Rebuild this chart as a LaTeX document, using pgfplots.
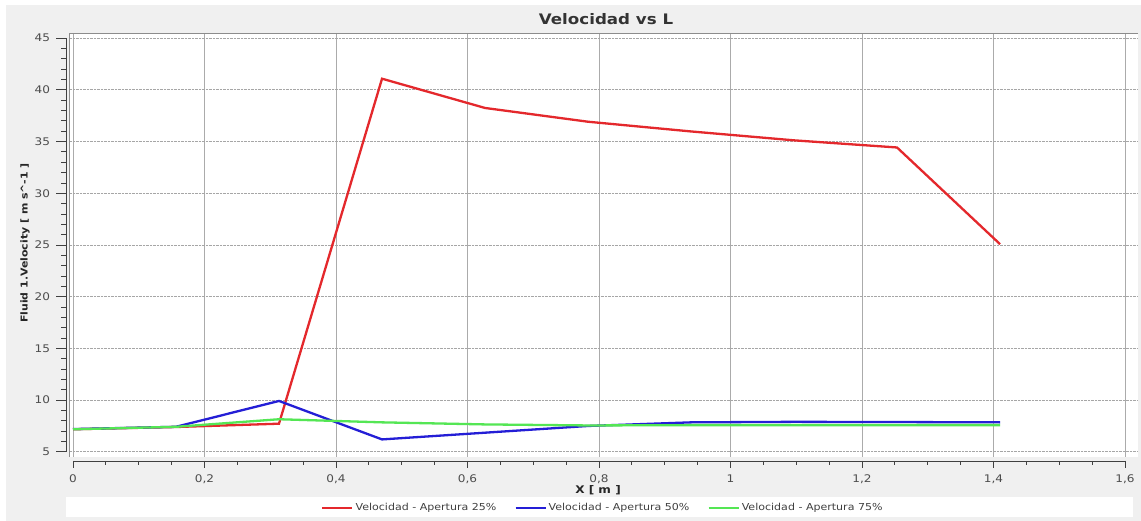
\documentclass[border=0pt]{standalone}
\usepackage{pgfplots}
\pgfplotsset{compat=1.18}
\usepackage{fontspec}
\setmainfont[FakeStretch=1.15]{DejaVu Sans}
\definecolor{bg}{HTML}{F0F0F0}
\definecolor{cred}{RGB}{228,40,44}
\definecolor{cblue}{RGB}{36,30,214}
\definecolor{cgreen}{RGB}{84,230,84}
\begin{document}
\begin{tikzpicture}[x=1pt,y=1pt]
\fill[white] (0,0) rectangle (1141,521);
\fill[bg] (6,0) rectangle (1141,516);
\fill[white] (66,4) rectangle (1133,24);
\begin{axis}[
  at={(70pt,64pt)}, anchor=south west, scale only axis,
  width=1068pt, height=424pt,
  xmin=-0.00456, xmax=1.6198, ymin=4.5, ymax=45.5,
  axis background/.style={fill=white},
  axis line style={draw=none},
  major tick length=0pt, minor tick length=0pt,
  xtick={0,0.2,0.4,0.6,0.8,1,1.2,1.4,1.6},
  ytick={5,10,15,20,25,30,35,40,45},
  grid=major,
  x grid style={color=black!33, line width=0.9pt},
  y grid style={color=black!35, densely dotted, line width=0.9pt},
  /pgf/number format/assume math mode=true,
  xticklabel={\pgfmathprintnumber[fixed,use comma,precision=1]{\tick}},
  ticklabel style={font=\fontsize{10.5}{12}\selectfont, text=black!70},
  xticklabel style={yshift=-14pt},
  yticklabel style={xshift=-16.5pt},
  title={Velocidad vs L},
  title style={at={(axis description cs:0.5019,1.0180)}, anchor=center, font=\bfseries\fontsize{14.5}{17}\selectfont, text=black!80},
  xlabel={X [ m ]},
  xlabel style={at={(axis description cs:0.4944,-0.0778)}, anchor=center, font=\bfseries\fontsize{10.5}{12}\selectfont, text=black!85},
  ylabel={Fluid 1.Velocity [ m s\textasciicircum-1 ]},
  ylabel style={at={(axis description cs:-0.0421,0.5047)}, anchor=center, font=\bfseries\fontsize{9.5}{11}\selectfont, text=black!85},
  legend columns=3,
  legend style={at={(axis description cs:0.4990,-0.1203)}, anchor=center, draw=none, fill=none,
    font=\fontsize{9.6}{11}\selectfont, text=black!75,
    /tikz/every even column/.append style={column sep=16pt}},
  legend image code/.code={\draw[#1] (0pt,0pt) -- (30pt,0pt);},
  clip=false,
]
\addplot[cred, line width=2.3pt] coordinates {
 (0,7.18) (0.1567,7.4) (0.3133,7.72) (0.47,41.08) (0.6267,38.25) (0.7833,36.92)
 (0.94,35.98) (1.0967,35.12) (1.2533,34.43) (1.41,25.08)};
\addlegendentry{Velocidad - Apertura 25\%}
\addplot[cblue, line width=2.3pt] coordinates {
 (0,7.2) (0.1567,7.42) (0.3133,9.92) (0.47,6.2) (0.6267,6.85) (0.7833,7.5)
 (0.94,7.85) (1.0967,7.9) (1.2533,7.88) (1.41,7.85)};
\addlegendentry{Velocidad - Apertura 50\%}
\addplot[cgreen, line width=2.3pt] coordinates {
 (0,7.18) (0.1567,7.42) (0.3133,8.15) (0.47,7.85) (0.6267,7.65) (0.7833,7.55)
 (0.94,7.58) (1.0967,7.58) (1.2533,7.58) (1.41,7.58)};
\addlegendentry{Velocidad - Apertura 75\%}
\end{axis}
% plot frame
\draw[black!45, line width=0.9pt] (70,488) -- (1138,488);
\draw[black!45, line width=0.9pt] (69.5,64) -- (69.5,488);
% detached y axis
\draw[black!75, line width=0.9pt] (66,69.2) -- (66,482.8);
\foreach \v in {5,10,...,45} \draw[black!75, line width=0.9pt] (66,{482.8-(45-\v)*10.34}) -- ++(-10,0);
\foreach \v in {5,...,45} \draw[black!75, line width=0.9pt] (66,{482.8-(45-\v)*10.34}) -- ++(-5,0);
% detached x axis
\draw[black!75, line width=0.9pt] (73,60) -- (1125,60);
\foreach \i in {0,...,8} \draw[black!75, line width=0.9pt] ({73+131.5*\i},60) -- ++(0,-7);
\foreach \i in {0,...,32} \draw[black!75, line width=0.9pt] ({73+32.875*\i},60) -- ++(0,-4);
\end{tikzpicture}
\end{document}
